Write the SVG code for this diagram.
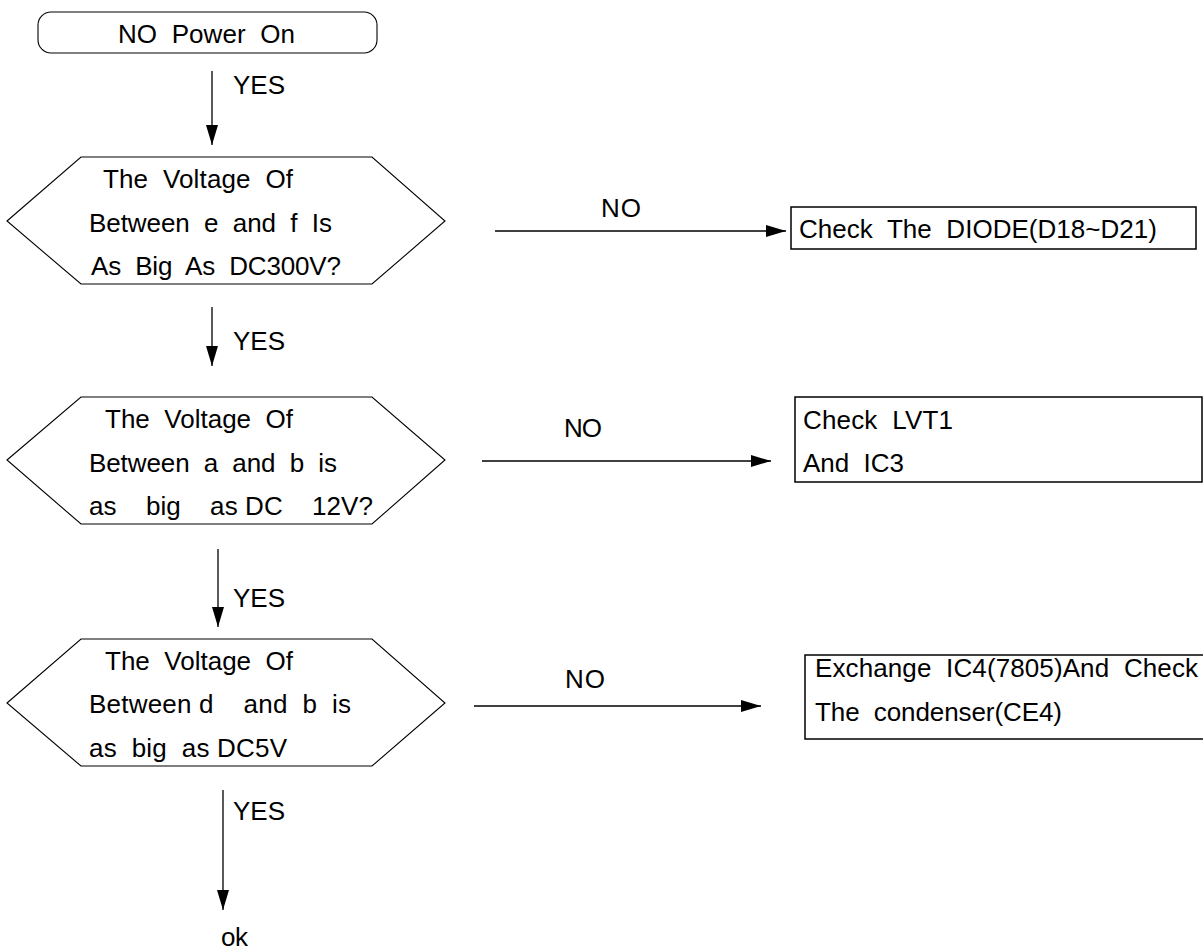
<svg xmlns="http://www.w3.org/2000/svg" width="1203" height="952" viewBox="0 0 1203 952">
<style>
text{font-family:"Liberation Sans",Arial,sans-serif;font-size:26px;fill:#000;white-space:pre}
.shape{fill:#fff;stroke:#000;stroke-width:1.1}
.box{fill:#fff;stroke:#000;stroke-width:1.5}
.conn line{stroke:#000;stroke-width:1.3}
</style>
<defs>
<marker id="ah" markerUnits="userSpaceOnUse" markerWidth="22" markerHeight="13" refX="20" refY="6" orient="auto">
<path d="M0,0 L20,6 L0,12 Z" fill="#000"/>
</marker>
</defs>
<rect width="1203" height="952" fill="#fff"/>
<g id="start">
<rect class="shape" x="38" y="12" width="339" height="41" rx="13"/>
<text x="118" y="43" textLength="177">NO  Power  On</text>
</g>
<g id="decision1">
<polygon class="shape" points="7,221 81,157 372,157 445,221 372,284 81,284"/>
<text x="103" y="188" textLength="190">The  Voltage  Of</text>
<text x="89" y="232" textLength="243">Between  e  and  f  Is</text>
<text x="91" y="275" textLength="250">As  Big  As  DC300V?</text>
</g>
<g id="decision2">
<polygon class="shape" points="7,460 81,397 372,397 445,460 372,524 81,524"/>
<text x="105" y="428" textLength="188">The  Voltage  Of</text>
<text x="89" y="472" textLength="248">Between  a  and  b  is</text>
<text x="89" y="515" textLength="284">as    big    as DC    12V?</text>
</g>
<g id="decision3">
<polygon class="shape" points="7,703 81,639 372,639 445,703 372,766 81,766"/>
<text x="105" y="670" textLength="188">The  Voltage  Of</text>
<text x="89" y="713" textLength="262">Between d    and  b  is</text>
<text x="89" y="757" textLength="198">as  big  as DC5V</text>
</g>
<g id="action1">
<rect class="box" x="791" y="207" width="405" height="42"/>
<text x="799" y="238" textLength="358">Check  The  DIODE(D18~D21)</text>
</g>
<g id="action2">
<rect class="box" x="795" y="397" width="407" height="85"/>
<text x="803" y="429" textLength="150">Check  LVT1</text>
<text x="803" y="472" textLength="101">And  IC3</text>
</g>
<g id="action3">
<rect class="box" x="805" y="655" width="402" height="84"/>
<text x="815" y="677" textLength="383">Exchange  IC4(7805)And  Check</text>
<text x="815" y="721" textLength="247">The  condenser(CE4)</text>
</g>
<g id="end">
<text x="221" y="946" textLength="27">ok</text>
</g>
<g id="connectors" class="conn">
<line x1="212" y1="71" x2="212" y2="145" marker-end="url(#ah)"/>
<line x1="212" y1="307" x2="212" y2="366" marker-end="url(#ah)"/>
<line x1="218" y1="549" x2="218" y2="627" marker-end="url(#ah)"/>
<line x1="223" y1="790" x2="223" y2="910" marker-end="url(#ah)"/>
<line x1="495" y1="231" x2="786" y2="231" marker-end="url(#ah)"/>
<line x1="482" y1="461" x2="771" y2="461" marker-end="url(#ah)"/>
<line x1="474" y1="706" x2="761" y2="706" marker-end="url(#ah)"/>
<text x="233" y="94" textLength="52">YES</text>
<text x="233" y="350" textLength="52">YES</text>
<text x="233" y="607" textLength="52">YES</text>
<text x="233" y="820" textLength="52">YES</text>
<text x="601" y="217" textLength="40">NO</text>
<text x="564" y="437" textLength="38">NO</text>
<text x="565" y="688" textLength="40">NO</text>
</g>
</svg>
